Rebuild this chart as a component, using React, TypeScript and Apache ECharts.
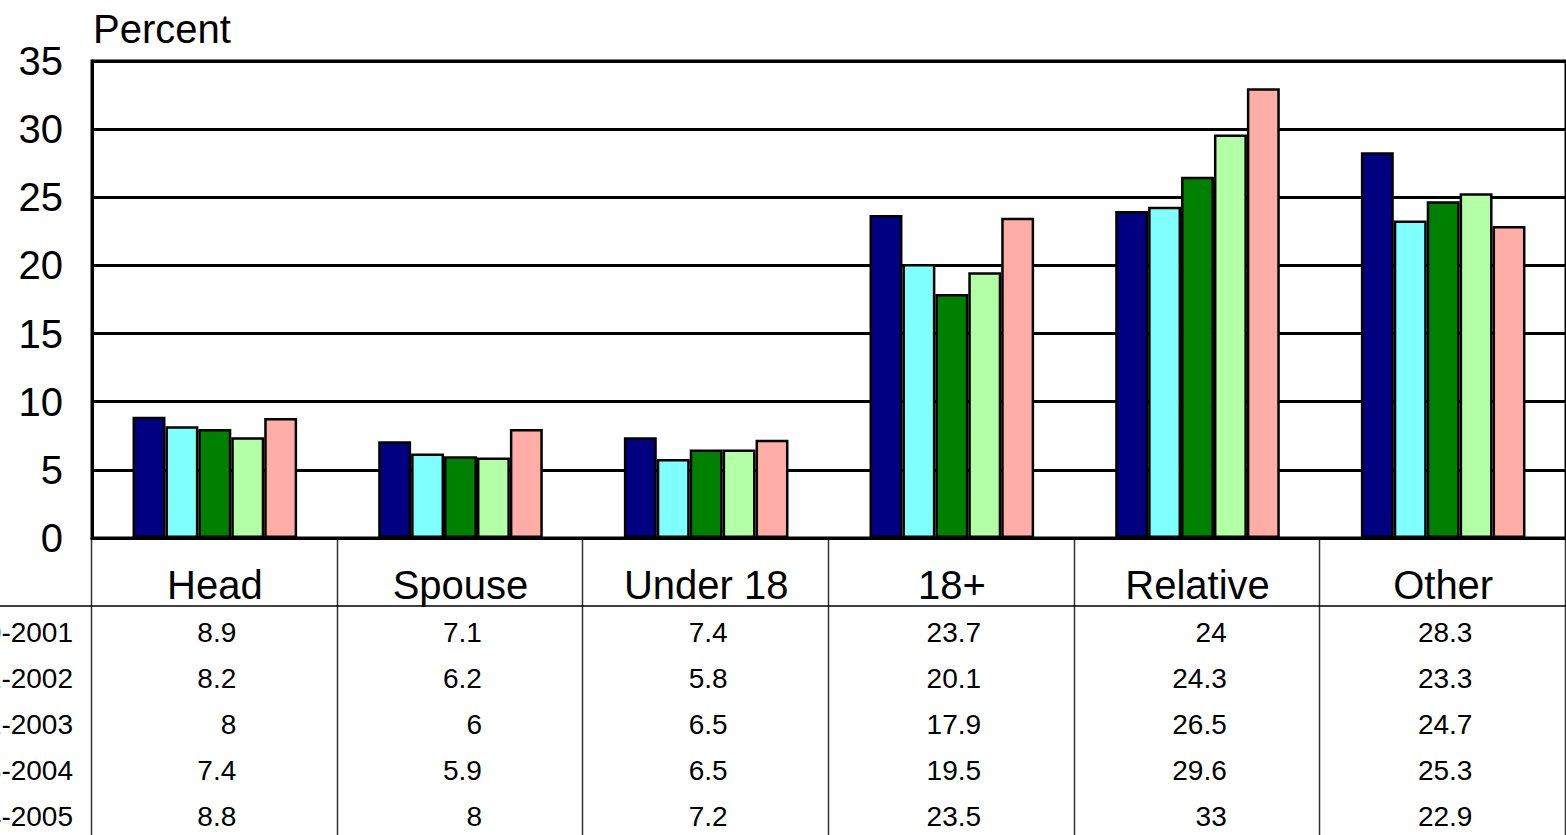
import React, { useEffect, useRef } from "react";
import * as echarts from "echarts";

const categories = ["Head", "Spouse", "Under 18", "18+", "Relative", "Other"];
const seriesNames = ["2000-2001", "2001-2002", "2002-2003", "2003-2004", "2004-2005"];
const y2001 = [8.9, 7.1, 7.4, 23.7, 24, 28.3];
const y2002 = [8.2, 6.2, 5.8, 20.1, 24.3, 23.3];
const y2003 = [8, 6, 6.5, 17.9, 26.5, 24.7];
const y2004 = [7.4, 5.9, 6.5, 19.5, 29.6, 25.3];
const y2005 = [8.8, 8, 7.2, 23.5, 33, 22.9];
const seriesData = [y2001, y2002, y2003, y2004, y2005];
const colors = ["#000080", "#80FFFF", "#008000", "#B3FFA6", "#FFADA6"];
const yTicks = { min: 0, max: 35, interval: 5 };

const FONT = "'Liberation Sans', Arial, sans-serif";
const W = 1566;
const H = 835;
const GRID_LEFT = 92;
const GRID_TOP = 61;
const GRID_BOTTOM = 297;
const TABLE_FONT = 28;
const BIG_FONT = 40;

function textWidth(s: string, fs: number) {
  let w = 0;
  for (const ch of s) w += ch === "." ? 0.278 : 0.556;
  return w * fs;
}

export default function App() {
  const ref = useRef<HTMLDivElement>(null);
  useEffect(() => {
    if (!ref.current) return;
    const chart = echarts.init(ref.current, undefined, { renderer: "svg", width: W, height: H });
    chart.setOption({
      animation: false,
      backgroundColor: "#ffffff",
      textStyle: { fontFamily: FONT },
      title: {
        text: "Percent",
        left: 88,
        top: 4,
        textStyle: { fontFamily: FONT, fontSize: BIG_FONT, fontWeight: "normal", color: "#000" },
      },
      grid: {
        left: GRID_LEFT,
        right: 0,
        top: GRID_TOP,
        bottom: GRID_BOTTOM,
        show: true,
        borderColor: "#000",
        borderWidth: 3,
        backgroundColor: "transparent",
      },
      xAxis: {
        type: "category",
        data: categories,
        axisLine: { show: true, lineStyle: { color: "#000", width: 3 } },
        axisTick: { show: false },
        axisLabel: {
          fontFamily: FONT,
          fontSize: BIG_FONT,
          color: "#000",
          margin: 27,
          interval: 0,
        },
        splitLine: { show: false },
      },
      yAxis: {
        type: "value",
        min: yTicks.min,
        max: yTicks.max,
        interval: yTicks.interval,
        axisLine: { show: true, lineStyle: { color: "#000", width: 3 } },
        axisTick: { show: false },
        axisLabel: { fontFamily: FONT, fontSize: BIG_FONT, color: "#000", margin: 29 },
        splitLine: { show: true, lineStyle: { color: "#000", width: 3 } },
      },
      series: seriesData.map((d, i) => ({
        type: "bar",
        name: seriesNames[i],
        data: d,
        barGap: "0%",
        barCategoryGap: "33%",
        itemStyle: { color: colors[i], borderColor: "#000", borderWidth: 2.5 },
      })),
    });

    // Build data table under the chart
    const gridRight = W;
    const catW = (gridRight - GRID_LEFT) / categories.length;
    const axisY = H - GRID_BOTTOM;
    const headerLineY = 606;
    const rowY0 = 632;
    const rowStep = 46;
    const elements: any[] = [];
    for (let c = 0; c <= categories.length; c++) {
      const x = Math.round(GRID_LEFT + c * catW) - 0.5;
      elements.push({
        type: "line",
        shape: { x1: x, y1: axisY, x2: x, y2: H },
        style: { stroke: "#333", lineWidth: 1.5 },
      });
    }
    elements.push({
      type: "line",
      shape: { x1: 0, y1: headerLineY, x2: W, y2: headerLineY },
      style: { stroke: "#000", lineWidth: 1.5 },
    });
    seriesData.forEach((row, r) => {
      const y = rowY0 + r * rowStep;
      elements.push({
        type: "text",
        x: 73,
        y,
        style: {
          text: seriesNames[r],
          fontFamily: FONT,
          fontSize: TABLE_FONT,
          fill: "#000",
          align: "right",
          verticalAlign: "middle",
        },
      });
    });
    categories.forEach((_, c) => {
      const center = chart.convertToPixel({ xAxisIndex: 0 }, c) as number;
      const strs = seriesData.map((row) => String(row[c]));
      const maxW = Math.max(...strs.map((s) => textWidth(s, TABLE_FONT)));
      const right = center + maxW / 2 + 2;
      strs.forEach((s, r) => {
        elements.push({
          type: "text",
          x: right,
          y: rowY0 + r * rowStep,
          style: {
            text: s,
            fontFamily: FONT,
            fontSize: TABLE_FONT,
            fill: "#000",
            align: "right",
            verticalAlign: "middle",
          },
        });
      });
    });
    chart.setOption({ graphic: { elements } });
    return () => chart.dispose();
  }, []);
  return (
    <div
      ref={ref}
      style={{ position: "fixed", left: 0, top: 0, width: W, height: H, background: "#fff" }}
    />
  );
}
